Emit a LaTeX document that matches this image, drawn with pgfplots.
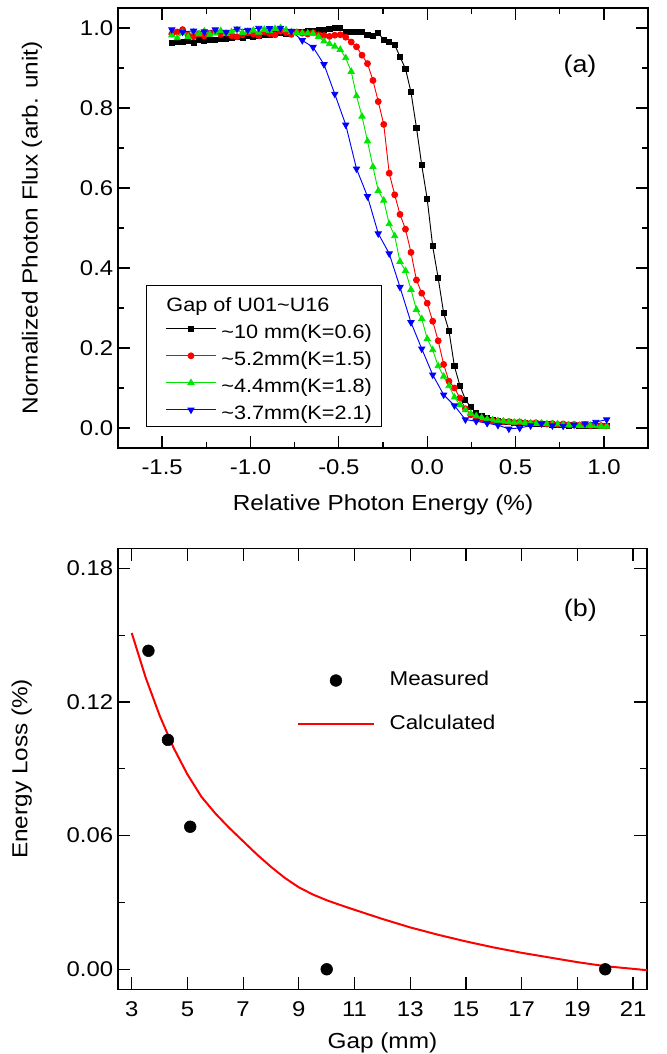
\documentclass[border=0pt]{standalone}
\usepackage{fontspec}
\setmainfont{Liberation Sans}[FakeStretch=1.12]
\usepackage{pgfplots}
\pgfplotsset{compat=1.18}
\usepackage{pgfplotstable}

\pgfplotstableread{
x y
-1.445 0.963
-1.414 0.966
-1.384 0.965
-1.353 0.968
-1.322 0.962
-1.291 0.969
-1.261 0.968
-1.230 0.971
-1.199 0.970
-1.168 0.973
-1.138 0.972
-1.107 0.975
-1.076 0.977
-1.045 0.976
-1.015 0.979
-0.984 0.978
-0.953 0.981
-0.922 0.983
-0.892 0.982
-0.861 0.985
-0.830 0.987
-0.799 0.986
-0.769 0.989
-0.738 0.990
-0.707 0.991
-0.676 0.993
-0.646 0.992
-0.615 0.995
-0.584 0.996
-0.553 0.998
-0.523 1.000
-0.492 1.000
-0.461 0.991
-0.430 0.989
-0.400 0.989
-0.369 0.991
-0.338 0.983
-0.307 0.979
-0.277 0.987
-0.246 0.971
-0.215 0.966
-0.184 0.958
-0.154 0.928
-0.123 0.898
-0.092 0.840
-0.061 0.751
-0.031 0.657
0.000 0.572
0.031 0.454
0.062 0.375
0.093 0.287
0.123 0.243
0.154 0.154
0.185 0.106
0.216 0.071
0.246 0.052
0.277 0.038
0.308 0.030
0.339 0.024
0.369 0.020
0.400 0.018
0.431 0.016
0.462 0.015
0.492 0.013
0.523 0.013
0.554 0.012
0.585 0.011
0.615 0.010
0.646 0.010
0.677 0.009
0.708 0.008
0.738 0.008
0.769 0.007
0.800 0.006
0.831 0.007
0.861 0.006
0.892 0.005
0.923 0.005
0.954 0.004
0.984 0.005
1.015 0.004
}\blackdata

\pgfplotstableread{
x y
-1.445 0.985
-1.414 0.990
-1.384 0.996
-1.353 0.982
-1.322 0.978
-1.291 0.985
-1.261 0.980
-1.230 0.986
-1.199 0.990
-1.168 0.984
-1.138 0.987
-1.107 0.981
-1.076 0.978
-1.045 0.983
-1.015 0.988
-0.984 0.985
-0.953 0.981
-0.922 0.990
-0.892 0.986
-0.861 0.983
-0.830 0.992
-0.799 0.988
-0.769 0.984
-0.738 0.990
-0.707 0.987
-0.676 0.985
-0.646 0.988
-0.615 0.983
-0.584 0.981
-0.553 0.979
-0.523 0.982
-0.492 0.983
-0.461 0.977
-0.430 0.965
-0.400 0.953
-0.369 0.932
-0.338 0.911
-0.307 0.869
-0.277 0.816
-0.246 0.759
-0.215 0.637
-0.184 0.583
-0.154 0.534
-0.123 0.497
-0.092 0.439
-0.061 0.370
-0.031 0.337
0.000 0.312
0.031 0.267
0.062 0.218
0.093 0.159
0.123 0.117
0.154 0.100
0.185 0.075
0.216 0.048
0.246 0.033
0.277 0.025
0.308 0.022
0.339 0.019
0.369 0.018
0.400 0.017
0.431 0.016
0.462 0.016
0.492 0.014
0.523 0.015
0.554 0.013
0.585 0.012
0.615 0.013
0.646 0.011
0.677 0.010
0.708 0.011
0.738 0.009
0.769 0.010
0.800 0.008
0.831 0.009
0.861 0.007
0.892 0.008
0.923 0.006
0.954 0.007
0.984 0.006
1.015 0.005
}\reddata

\pgfplotstableread{
x y
-1.445 0.982
-1.414 0.975
-1.384 0.988
-1.353 0.978
-1.322 0.990
-1.291 0.985
-1.261 0.992
-1.230 0.984
-1.199 0.987
-1.168 0.993
-1.138 0.986
-1.107 0.990
-1.076 0.995
-1.045 0.988
-1.015 0.991
-0.984 0.994
-0.953 0.989
-0.922 0.996
-0.892 0.993
-0.861 0.998
-0.830 1.000
-0.799 0.995
-0.769 0.990
-0.738 0.988
-0.707 0.987
-0.676 0.987
-0.646 0.986
-0.615 0.978
-0.584 0.967
-0.553 0.960
-0.523 0.954
-0.492 0.946
-0.461 0.925
-0.430 0.891
-0.400 0.830
-0.369 0.779
-0.338 0.717
-0.307 0.653
-0.277 0.593
-0.246 0.569
-0.215 0.510
-0.184 0.480
-0.154 0.416
-0.123 0.393
-0.092 0.346
-0.061 0.296
-0.031 0.273
0.000 0.223
0.031 0.195
0.062 0.155
0.093 0.129
0.123 0.105
0.154 0.077
0.185 0.058
0.216 0.045
0.246 0.036
0.277 0.030
0.308 0.026
0.339 0.022
0.369 0.020
0.400 0.018
0.431 0.017
0.462 0.015
0.492 0.014
0.523 0.015
0.554 0.013
0.585 0.012
0.615 0.011
0.646 0.012
0.677 0.010
0.708 0.009
0.738 0.010
0.769 0.008
0.800 0.007
0.831 0.008
0.861 0.006
0.892 0.005
0.923 0.006
0.954 0.005
0.984 0.004
1.015 0.004
}\greendata

\pgfplotstableread{
x y
-1.445 0.996
-1.384 0.990
-1.322 0.993
-1.261 0.991
-1.199 0.996
-1.138 0.990
-1.076 0.998
-1.015 0.995
-0.953 1.000
-0.892 0.999
-0.830 1.000
-0.769 0.992
-0.707 0.969
-0.646 0.952
-0.584 0.909
-0.523 0.835
-0.461 0.758
-0.400 0.648
-0.338 0.579
-0.277 0.486
-0.215 0.436
-0.154 0.352
-0.092 0.264
-0.031 0.198
0.031 0.133
0.093 0.083
0.154 0.056
0.216 0.021
0.277 0.017
0.339 0.012
0.400 0.007
0.462 -0.002
0.523 0.000
0.585 0.006
0.646 0.011
0.708 0.006
0.769 0.005
0.831 0.008
0.892 0.011
0.954 0.015
1.015 0.021
}\bluedata

\pgfplotstableread{
x y
3.6 0.143
4.3 0.103
5.1 0.064
10.0 0.000
20.0 0.000
}\measured

\pgfplotstableread{
x y
3.0 0.151
3.5 0.131
4.0 0.114
4.5 0.0995
5.0 0.0875
5.5 0.0775
6.0 0.0700
6.5 0.0635
7.0 0.0575
7.5 0.0515
8.0 0.0460
8.5 0.0410
9.0 0.0368
9.5 0.0336
10.0 0.0310
10.5 0.0288
11.0 0.0267
12.0 0.0226
13.0 0.0188
14.0 0.0155
15.0 0.0125
16.0 0.0098
17.0 0.0074
18.0 0.0053
19.0 0.0032
20.0 0.0014
21.0 0.0002
21.5 -0.0004
}\calculated

\definecolor{pgreen}{RGB}{0,230,0}
\newcommand{\tl}{\fontsize{16}{19}\selectfont}

\begin{document}
\begin{tikzpicture}
\useasboundingbox (0pt,0pt) rectangle (500.25pt,790.5pt);
\pgfplotsset{
  every axis/.append style={
    scale only axis,
    anchor=south west,
    tick align=inside,
    axis line style={line width=1.1pt},
    every tick/.style={black, line width=0.9pt},
    label style={font=\fontsize{16.3}{19}\selectfont},
  },
}
% ---------- top panel ----------
\begin{axis}[
  at={(88.43pt,454.5pt)},
  width=397.7pt, height=330pt,
  xmin=-1.75, xmax=1.25, ymin=-0.05, ymax=1.05,
  xtick={-1.5,-1.0,-0.5,0,0.5,1.0},
  xticklabels={{\tl -1.5},{\tl -1.0},{\tl -0.5},{\tl 0.0},{\tl 0.5},{\tl 1.0}},
  ytick={0,0.2,0.4,0.6,0.8,1.0},
  yticklabels={{\tl 0.0},{\tl 0.2},{\tl 0.4},{\tl 0.6},{\tl 0.8},{\tl 1.0}},
  minor x tick num=1, minor y tick num=1,
  major tick length=9pt, minor tick length=4.5pt,
  xticklabel style={yshift=-5pt},
  xlabel={Relative Photon Energy (\%)},
  ylabel={Normalized Photon Flux (arb. unit)},
  xlabel style={at={(axis description cs:0.5,-0.1295)}, anchor=center},
  ylabel style={at={(axis description cs:-0.162,0.5)}, anchor=center},
  legend cell align=left,
  legend style={
    at={(axis description cs:0.0524,0.3705)}, anchor=north west,
    draw=black, line width=0.75pt, fill=white,
    inner xsep=7pt, inner ysep=4.75pt,
    column sep=3.75pt, row sep=5.25pt,
    font=\fontsize{14.5}{17}\selectfont,
    nodes={inner sep=0pt, text height=15pt, text depth=0pt},
  },
  legend image code/.code={
    \path (-7.5pt,0pt);
    \draw[mark repeat=2,mark phase=2] plot coordinates {(0pt,0pt) (18.75pt,0pt) (37.5pt,0pt)};
  },
]
\addlegendimage{empty legend}
\addlegendentry{\hspace*{-41.25pt}Gap of U01\textasciitilde U16}
\addplot[black, line width=0.7pt, mark=square*, mark size=1.9pt] table {\blackdata};
\addlegendentry{\textasciitilde 10 mm(K=0.6)}
\addplot[red, line width=0.7pt, mark=*, mark size=2.2pt] table {\reddata};
\addlegendentry{\textasciitilde 5.2mm(K=1.5)}
\addplot[pgreen, line width=0.7pt, mark=triangle*, mark size=2.6pt] table {\greendata};
\addlegendentry{\textasciitilde 4.4mm(K=1.8)}
\addplot[blue, line width=0.7pt, mark=triangle*, mark options={rotate=180}, mark size=2.6pt] table {\bluedata};
\addlegendentry{\textasciitilde 3.7mm(K=2.1)}
\node[font=\fontsize{18}{20}\selectfont] at (axis description cs:0.8714,0.868) {(a)};
\end{axis}
% ---------- bottom panel ----------
\begin{axis}[
  at={(88.35pt,48.5pt)},
  width=396.9pt, height=330.75pt,
  xmin=2.5, xmax=21.5, ymin=-0.009, ymax=0.189,
  xtick={3,5,7,9,11,13,15,17,19,21},
  xticklabels={{\tl 3},{\tl 5},{\tl 7},{\tl 9},{\tl 11},{\tl 13},{\tl 15},{\tl 17},{\tl 19},{\tl 21}},
  ytick={0,0.06,0.12,0.18},
  yticklabels={{\tl 0.00},{\tl 0.06},{\tl 0.12},{\tl 0.18}},
  minor y tick num=1,
  major tick length=9.5pt, minor tick length=5.5pt,
  xticklabel style={yshift=-6pt},
  xlabel={Gap (mm)},
  ylabel={Energy Loss (\%)},
  xlabel style={at={(axis description cs:0.5,-0.122)}, anchor=center},
  ylabel style={at={(axis description cs:-0.1816,0.5)}, anchor=center},
  legend cell align=left,
  legend style={
    at={(axis description cs:0.338,0.724)}, anchor=north west,
    draw=none, fill=none,
    inner xsep=0pt, inner ysep=0pt,
    column sep=11pt, row sep=17.5pt,
    font=\fontsize{15}{18}\selectfont,
    nodes={inner sep=0pt, text height=11.3pt, text depth=4pt},
  },
]
\addplot[only marks, mark=*, mark size=4.4pt, black,
  legend image code/.code={\path (0pt,0pt) (57pt,0pt); \draw plot coordinates {(28.5pt,0pt)};}]
  table {\measured};
\addlegendentry{Measured}
\addplot[red, line width=1.5pt, no marks,
  legend image code/.code={\draw (0pt,0pt) -- (57pt,0pt);}]
  table {\calculated};
\addlegendentry{Calculated}
\node[font=\fontsize{18}{20}\selectfont] at (axis description cs:0.874,0.860) {(b)};
\end{axis}
\end{tikzpicture}
\end{document}
